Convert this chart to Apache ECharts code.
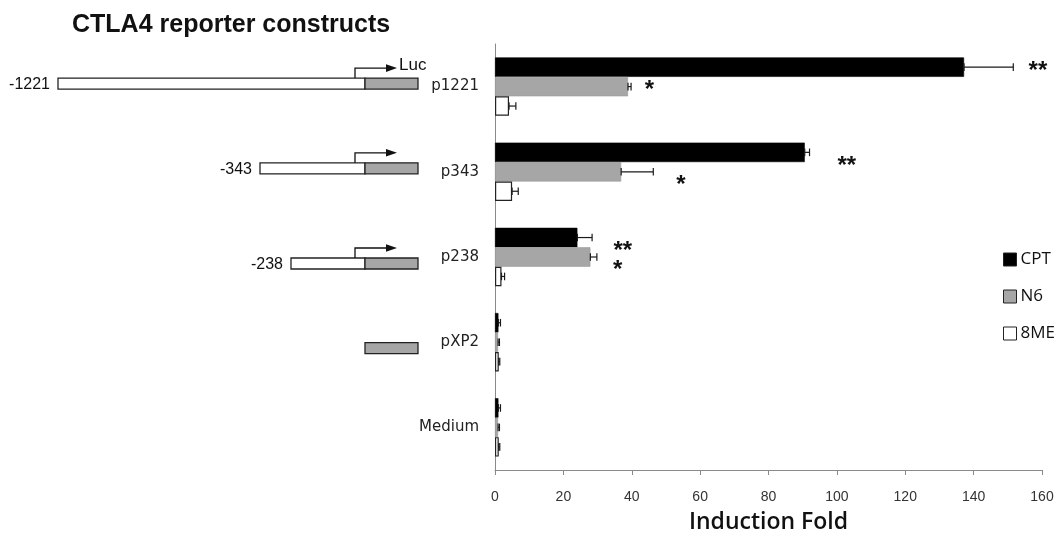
<!DOCTYPE html>
<html><head><meta charset="utf-8">
<script src="https://cdn.jsdelivr.net/npm/echarts@6/dist/echarts.min.js"></script>
<style>html,body{margin:0;padding:0;background:#fff}#c{width:1059px;height:538px}</style>
</head><body><div id="c"></div>
<script>
// ---- data ----
const categories = ['p1221', 'p343', 'p238', 'pXP2', 'Medium'];
const seriesNames = ['CPT', 'N6', '8ME'];
const cptValues = [137.2, 90.6, 24.1, 1.0, 1.0];
const cptErrors = [14.4, 1.4, 4.3, 0.6, 0.6];
const n6Values  = [38.9, 36.9, 27.9, 0.9, 0.9];
const n6Errors  = [0.9, 9.4, 1.9, 0.4, 0.4];
const me8Values = [4.1, 5.0, 1.9, 1.1, 1.1];
const me8Errors = [2.0, 1.8, 0.9, 0.3, 0.3];
const xTickLabels = [0, 20, 40, 60, 80, 100, 120, 140, 160];
// significance marks (x = value position of the mark, slot = bar slot it sits beside)
const sigText = ['**', '*', '**', '*', '**', '*'];
const sigCategory = [0, 0, 1, 1, 2, 2];
const sigX = [158.8, 45.2, 102.9, 54.4, 37.4, 35.9];
const sigSlot = [0, 1, 0.5, 1.5, 0.5, 1.5];
// reporter construct schematic (schematic units, TSS = 0)
const promoterLabels = ['-1221', '-343', '-238', '', ''];
const promoterStart = [-307, -105, -74, 0, null];
const lucEnd = [53, 53, 53, 53, null];
const hasTSS = [true, true, true, false, false];
const lucLabel = ['Luc', '', '', '', ''];

const colors = ['#000000', '#a6a6a6', '#ffffff'];
const valuesList = [cptValues, n6Values, me8Values];
const errorsList = [cptErrors, n6Errors, me8Errors];
const CAT_GAP = 0.315;

const chart = echarts.init(document.getElementById('c'), null, {renderer: 'canvas', width: 1059, height: 538});

function errRender(si) {
  return function (params, api) {
    const ci = api.value(0), v = api.value(1), e = api.value(2);
    const band = api.size([0, 1])[1];
    const bw = band * (1 - CAT_GAP) / 3;
    const c = api.coord([v, ci]);
    const y = c[1] + (si - 1) * bw;
    const x0 = c[0];
    const x1 = api.coord([v + e, ci])[0];
    const h = 3.8;
    const st = {stroke: '#1a1a1a', lineWidth: 1.2};
    return {type: 'group', children: [
      {type: 'line', shape: {x1: x0, y1: y, x2: x1, y2: y}, style: st},
      {type: 'line', shape: {x1: x1, y1: y - h, x2: x1, y2: y + h}, style: st},
      {type: 'line', shape: {x1: x0, y1: y - h, x2: x0, y2: y + h}, style: st}
    ]};
  };
}

const series = [];
seriesNames.forEach(function (name, si) {
  series.push({
    name: name, type: 'bar', xAxisIndex: 0, yAxisIndex: 0,
    data: valuesList[si], barGap: '0%', barCategoryGap: (CAT_GAP * 100) + '%',
    itemStyle: {color: colors[si], borderColor: si === 2 ? '#222' : (si === 1 ? '#9a9a9a' : '#000'), borderWidth: si === 2 ? 1.2 : 0.6},
    emphasis: {disabled: true}, animation: false
  });
});
seriesNames.forEach(function (name, si) {
  series.push({
    type: 'custom', xAxisIndex: 0, yAxisIndex: 0, z: 5, animation: false, silent: true,
    encode: {x: 1, y: 0},
    data: valuesList[si].map(function (v, i) { return [i, v, errorsList[si][i]]; }),
    renderItem: errRender(si)
  });
});
// significance asterisks
series.push({
  type: 'custom', xAxisIndex: 0, yAxisIndex: 0, z: 6, animation: false, silent: true,
  encode: {x: 1, y: 0},
  data: sigX.map(function (x, i) { return [sigCategory[i], x, sigSlot[i], i]; }),
  renderItem: function (params, api) {
    const ci = api.value(0), x = api.value(1), slot = api.value(2);
    const band = api.size([0, 1])[1];
    const bw = band * (1 - CAT_GAP) / 3;
    const c = api.coord([x, ci]);
    const y = c[1] + (slot - 1) * bw;
    return {type: 'text', x: c[0], y: y + 4, style: {
      text: sigText[params.dataIndex], fill: '#111', align: 'center', verticalAlign: 'middle',
      font: 'bold 24px "Liberation Sans", Arial, sans-serif'}};
  }
});
// reporter construct schematic
series.push({
  type: 'custom', xAxisIndex: 1, yAxisIndex: 1, animation: false, silent: true,
  encode: {x: 1, y: 0},
  data: categories.map(function (c, i) { return [i, promoterStart[i] == null ? 0 : promoterStart[i]]; }),
  renderItem: function (params, api) {
    const i = params.dataIndex;
    if (promoterStart[i] == null) return {type: 'group', children: []};
    const shift = [-3, -3.5, 6.5, 6, 0][i];
    const cy = api.coord([0, i])[1] + shift;
    const xs = api.coord([promoterStart[i], i])[0];
    const xt = api.coord([0, i])[0];
    const xe = api.coord([lucEnd[i], i])[0];
    const bh = 11;
    const top = cy - bh / 2;
    const kids = [];
    if (xt > xs) kids.push({type: 'rect', shape: {x: xs, y: top, width: xt - xs, height: bh}, style: {fill: '#fff', stroke: '#222', lineWidth: 1.3}});
    kids.push({type: 'rect', shape: {x: xt, y: top, width: xe - xt, height: bh}, style: {fill: '#a6a6a6', stroke: '#222', lineWidth: 1.3}});
    if (hasTSS[i]) {
      const ax = api.coord([-10, i])[0];
      const ay = top - 10;
      const ahx = api.coord([21, i])[0];
      const tip = api.coord([32, i])[0];
      kids.push({type: 'polyline', shape: {points: [[ax, top], [ax, ay], [ahx, ay]]}, style: {stroke: '#111', lineWidth: 1.3, fill: null}});
      kids.push({type: 'polygon', shape: {points: [[ahx, ay - 3.8], [tip, ay], [ahx, ay + 3.8]]}, style: {fill: '#111'}});
      if (lucLabel[i]) kids.push({type: 'text', x: tip + 2, y: ay - 3, style: {text: lucLabel[i], fill: '#111', align: 'left', verticalAlign: 'middle', font: '17px "Liberation Sans", Arial, sans-serif'}});
    }
    if (promoterLabels[i]) kids.push({type: 'text', x: xs - 8, y: cy + 1, style: {text: promoterLabels[i], fill: '#111', align: 'right', verticalAlign: 'middle', font: '16px "Liberation Sans", Arial, sans-serif'}});
    return {type: 'group', children: kids};
  }
});

chart.setOption({
  backgroundColor: '#fff',
  animation: false,
  title: {text: 'CTLA4 reporter constructs', left: 72, top: 13, padding: 0,
    textStyle: {fontFamily: '"Liberation Sans", Arial, sans-serif', fontWeight: 'bold', fontSize: 25, color: '#111'}},
  legend: {data: seriesNames, orient: 'vertical', left: 1003, top: 251, itemWidth: 13, itemHeight: 13, itemGap: 20,
    icon: 'rect', selectedMode: false, padding: 0, itemStyle: {borderColor: '#222', borderWidth: 1},
    textStyle: {fontFamily: '"Open Sans", sans-serif', fontSize: 17, color: '#111', padding: [0, 0, 0, -1], lineHeight: 17}},
  grid: [
    {left: 495, right: 17, top: 44, bottom: 68, containLabel: false, outerBoundsMode: 'none'},
    {left: 0, width: 495, top: 44, bottom: 68, containLabel: false, outerBoundsMode: 'none'}
  ],
  xAxis: [
    {type: 'value', gridIndex: 0, min: 0, max: 160, interval: 20,
      name: 'Induction Fold', nameLocation: 'middle', nameGap: 41,
      nameTextStyle: {fontFamily: '"Open Sans", sans-serif', fontWeight: 600, fontSize: 23, color: '#111'},
      axisLine: {show: true, lineStyle: {color: '#8a8a8a', width: 1}},
      axisTick: {show: true, length: 5, lineStyle: {color: '#8a8a8a'}},
      axisLabel: {margin: 20, fontSize: 14, color: '#333', fontFamily: '"Liberation Sans", Arial, sans-serif',
        formatter: function (v) { return xTickLabels.indexOf(v) >= 0 ? String(v) : ''; }},
      splitLine: {show: false}},
    {type: 'value', gridIndex: 1, min: -365, max: 130, show: false}
  ],
  yAxis: [
    {type: 'category', gridIndex: 0, data: categories, inverse: true,
      axisLine: {show: true, lineStyle: {color: '#8a8a8a', width: 1}},
      axisTick: {show: false},
      axisLabel: {margin: 16, fontSize: 15, color: '#222', padding: [4, 0, 0, 0], fontFamily: '"DejaVu Sans", Verdana, sans-serif'}},
    {type: 'category', gridIndex: 1, data: categories, inverse: true, show: false}
  ],
  series: series
});
</script>
</body></html>
